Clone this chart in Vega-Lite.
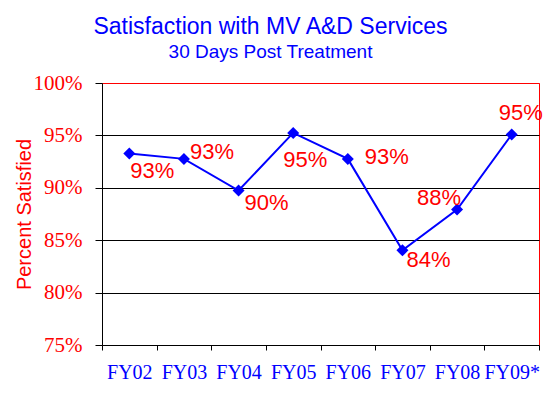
{
  "$schema": "https://vega.github.io/schema/vega-lite/v6.json",
  "autosize": "none",
  "width": 437,
  "height": 262,
  "padding": {"left": 102, "top": 83, "right": 10, "bottom": 69},
  "background": "white",
  "title": {
    "text": "Satisfaction with MV A&D Services",
    "subtitle": "30 Days Post Treatment",
    "color": "#0000FF",
    "subtitleColor": "#0000FF",
    "font": "Liberation Sans",
    "subtitleFont": "Liberation Sans",
    "fontSize": 23,
    "subtitleFontSize": 19,
    "fontWeight": "normal",
    "anchor": "middle",
    "dx": -50,
    "offset": 10,
    "subtitlePadding": 4
  },
  "config": {
    "view": {"stroke": "#FF0000", "strokeWidth": 1}
  },
  "data": {
    "values": [
      {"year": "FY02", "pct": 0.9327},
      {"year": "FY03", "pct": 0.9276},
      {"year": "FY04", "pct": 0.8974},
      {"year": "FY05", "pct": 0.9524},
      {"year": "FY06", "pct": 0.9276},
      {"year": "FY07", "pct": 0.8403},
      {"year": "FY08", "pct": 0.8793},
      {"year": "FY09*", "pct": 0.9508}
    ]
  },
  "encoding": {
    "x": {
      "field": "year",
      "type": "nominal",
      "sort": null,
      "scale": {"type": "band", "paddingInner": 0, "paddingOuter": 0},
      "axis": {
        "title": null,
        "labelAngle": 0,
        "labelFont": "Liberation Serif",
        "labelFontSize": 20,
        "labelColor": "#0000FF",
        "labelPadding": 12,
        "tickBand": "extent",
        "tickSize": 5,
        "tickColor": "#000000",
        "domainColor": "#000000",
        "grid": false
      }
    },
    "y": {
      "field": "pct",
      "type": "quantitative",
      "scale": {"domain": [0.75, 1.0], "nice": false, "zero": false},
      "axis": {
        "values": [0.75, 0.8, 0.85, 0.9, 0.95, 1.0],
        "format": ".0%",
        "title": "Percent Satisfied",
        "titleFont": "Liberation Sans",
        "titleFontSize": 20,
        "titleFontWeight": "normal",
        "titleColor": "#FF0000",
        "titlePadding": -1,
        "labelFont": "Liberation Serif",
        "labelFontSize": 21,
        "labelColor": "#FF0000",
        "labelPadding": 13,
        "tickSize": 7,
        "tickColor": "#000000",
        "domainColor": "#000000",
        "grid": true,
        "gridColor": {"condition": {"test": "datum.value >= 0.999 || datum.value <= 0.751", "value": "#FF0000"}, "value": "#000000"},
        "gridOpacity": 1
      }
    }
  },
  "layer": [
    {"mark": {"type": "line", "color": "#0000FF", "strokeWidth": 2}},
    {"mark": {"type": "point", "shape": "diamond", "size": 144, "filled": true, "color": "#0000FF", "opacity": 1}},
    {
      "transform": [{"filter": {"field": "year", "equal": "FY02"}}],
      "mark": {"type": "text", "font": "Liberation Sans", "fontSize": 22, "color": "#FF0000", "align": "center", "baseline": "middle", "dx": 23, "dy": 17},
      "encoding": {"text": {"field": "pct", "type": "quantitative", "format": ".0%"}}
    },
    {
      "transform": [{"filter": {"field": "year", "equal": "FY03"}}],
      "mark": {"type": "text", "font": "Liberation Sans", "fontSize": 22, "color": "#FF0000", "align": "center", "baseline": "middle", "dx": 28, "dy": -7},
      "encoding": {"text": {"field": "pct", "type": "quantitative", "format": ".0%"}}
    },
    {
      "transform": [{"filter": {"field": "year", "equal": "FY04"}}],
      "mark": {"type": "text", "font": "Liberation Sans", "fontSize": 22, "color": "#FF0000", "align": "center", "baseline": "middle", "dx": 28, "dy": 12},
      "encoding": {"text": {"field": "pct", "type": "quantitative", "format": ".0%"}}
    },
    {
      "transform": [{"filter": {"field": "year", "equal": "FY05"}}],
      "mark": {"type": "text", "font": "Liberation Sans", "fontSize": 22, "color": "#FF0000", "align": "center", "baseline": "middle", "dx": 12, "dy": 27},
      "encoding": {"text": {"field": "pct", "type": "quantitative", "format": ".0%"}}
    },
    {
      "transform": [{"filter": {"field": "year", "equal": "FY06"}}],
      "mark": {"type": "text", "font": "Liberation Sans", "fontSize": 22, "color": "#FF0000", "align": "center", "baseline": "middle", "dx": 39, "dy": -2},
      "encoding": {"text": {"field": "pct", "type": "quantitative", "format": ".0%"}}
    },
    {
      "transform": [{"filter": {"field": "year", "equal": "FY07"}}],
      "mark": {"type": "text", "font": "Liberation Sans", "fontSize": 22, "color": "#FF0000", "align": "center", "baseline": "middle", "dx": 26, "dy": 10},
      "encoding": {"text": {"field": "pct", "type": "quantitative", "format": ".0%"}}
    },
    {
      "transform": [{"filter": {"field": "year", "equal": "FY08"}}],
      "mark": {"type": "text", "font": "Liberation Sans", "fontSize": 22, "color": "#FF0000", "align": "center", "baseline": "middle", "dx": -18, "dy": -11},
      "encoding": {"text": {"field": "pct", "type": "quantitative", "format": ".0%"}}
    },
    {
      "transform": [{"filter": {"field": "year", "equal": "FY09*"}}],
      "mark": {"type": "text", "font": "Liberation Sans", "fontSize": 22, "color": "#FF0000", "align": "center", "baseline": "middle", "dx": 9, "dy": -22},
      "encoding": {"text": {"field": "pct", "type": "quantitative", "format": ".0%"}}
    }
  ]
}
